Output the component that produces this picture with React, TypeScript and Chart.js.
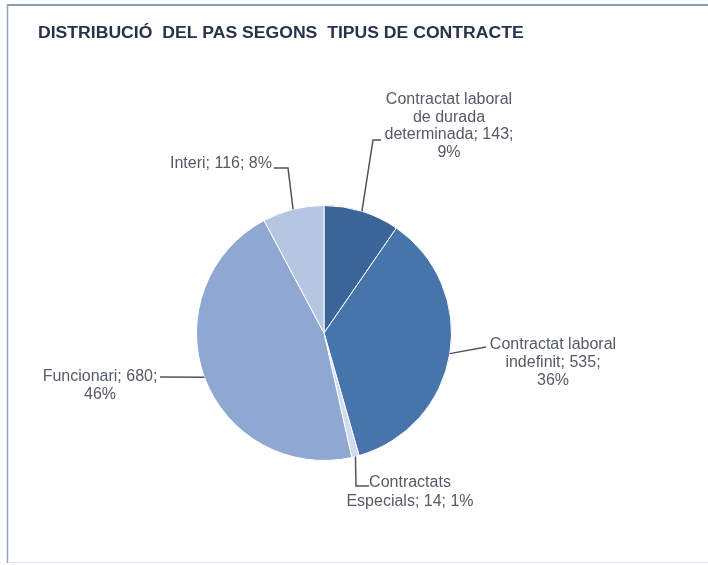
import React, { useEffect, useRef } from "react";
import { Chart, registerables } from "chart.js";

Chart.register(...registerables);

const TITLE = "DISTRIBUCIÓ  DEL PAS SEGONS  TIPUS DE CONTRACTE";
const categories = [
  "Contractat laboral de durada determinada",
  "Contractat laboral indefinit",
  "Contractats Especials",
  "Funcionari",
  "Interi",
];
const values = [143, 535, 14, 680, 116];
const percents = ["9%", "36%", "1%", "46%", "8%"];
// displayed (wrapped) label lines
const labelLines = [
  ["Contractat laboral", "de durada", `determinada; ${values[0]};`, percents[0]],
  ["Contractat laboral", `indefinit; ${values[1]};`, percents[1]],
  ["Contractats", `Especials; ${values[2]}; ${percents[2]}`],
  [`Funcionari; ${values[3]};`, percents[3]],
  [`Interi; ${values[4]}; ${percents[4]}`],
];
const colors = ["#3b6598", "#4674ab", "#cfdbee", "#8ea8d2", "#b6c6e2"];

// label placement (style): text centre x, first line y, line height; leader points after the arc anchor
const labelStyle = [
  { x: 449, y: 100, lh: 17.5, leader: [[373, 140], [381, 140]] },
  { x: 553, y: 345, lh: 18, leader: [[486, 347]] },
  { x: 410, y: 483, lh: 19, leader: [[356, 486], [369, 486]] },
  { x: 100, y: 377, lh: 17.5, leader: [[160, 377]] },
  { x: 221, y: 164, lh: 17.5, leader: [[288, 168], [274, 168]] },
];

function drawStretched(ctx: CanvasRenderingContext2D, text: string, x: number, y: number, sx: number, align: CanvasTextAlign) {
  ctx.save();
  ctx.translate(x, y);
  ctx.scale(sx, 1);
  ctx.textAlign = align;
  ctx.fillText(text, 0, 0);
  ctx.restore();
}

const decorPlugin = {
  id: "decor",
  afterDraw(chart: any) {
    const ctx: CanvasRenderingContext2D = chart.ctx;
    ctx.save();
    // frame
    ctx.strokeStyle = "#8a9cb8";
    ctx.lineWidth = 2;
    ctx.beginPath();
    ctx.moveTo(7, 5);
    ctx.lineTo(708, 5);
    ctx.stroke();
    ctx.lineWidth = 1.5;
    ctx.strokeStyle = "#93a3bb";
    ctx.beginPath();
    ctx.moveTo(7.5, 5);
    ctx.lineTo(7.5, 563);
    ctx.stroke();
    ctx.strokeStyle = "#e1e8f1";
    ctx.lineWidth = 1;
    ctx.beginPath();
    ctx.moveTo(8, 562.5);
    ctx.lineTo(708, 562.5);
    ctx.stroke();

    // title
    ctx.fillStyle = "#27334a";
    ctx.font = "bold 16px 'Liberation Sans', Arial, sans-serif";
    ctx.textBaseline = "middle";
    drawStretched(ctx, TITLE, 38, 34, 1.1, "left");

    // labels + leaders
    const meta = chart.getDatasetMeta(0);
    meta.data.forEach((arc: any, i: number) => {
      const st = labelStyle[i];
      const mid = (arc.startAngle + arc.endAngle) / 2;
      const ax = arc.x + Math.cos(mid) * arc.outerRadius;
      const ay = arc.y + Math.sin(mid) * arc.outerRadius;
      ctx.strokeStyle = "#4f545c";
      ctx.lineWidth = 1.5;
      ctx.beginPath();
      ctx.moveTo(ax, ay);
      st.leader.forEach((p) => ctx.lineTo(p[0], p[1]));
      ctx.stroke();

      ctx.fillStyle = "#545a66";
      ctx.font = "16px 'Liberation Sans', Arial, sans-serif";
      ctx.textBaseline = "middle";
      labelLines[i].forEach((line, k) => {
        drawStretched(ctx, line, st.x, st.y + k * st.lh, 1.0, "center");
      });
    });
    ctx.restore();
  },
};

export default function App() {
  const ref = useRef<HTMLCanvasElement>(null);
  useEffect(() => {
    document.body.style.margin = "0";
    const canvas = ref.current!;
    const chart = new Chart(canvas, {
      type: "pie",
      data: {
        labels: categories,
        datasets: [
          {
            data: values,
            backgroundColor: colors,
            borderColor: "#ffffff",
            borderWidth: 1,
          },
        ],
      },
      options: {
        responsive: false,
        animation: false,
        devicePixelRatio: 1,
        layout: { padding: { left: 196, right: 256, top: 205, bottom: 104 } },
        plugins: {
          legend: { display: false },
          tooltip: { enabled: false },
          title: { display: false },
        },
      } as any,
      plugins: [decorPlugin],
    });
    return () => chart.destroy();
  }, []);
  return (
    <div style={{ width: 708, height: 565, background: "#fff" }}>
      <canvas ref={ref} width={708} height={565} style={{ display: "block" }} />
    </div>
  );
}
